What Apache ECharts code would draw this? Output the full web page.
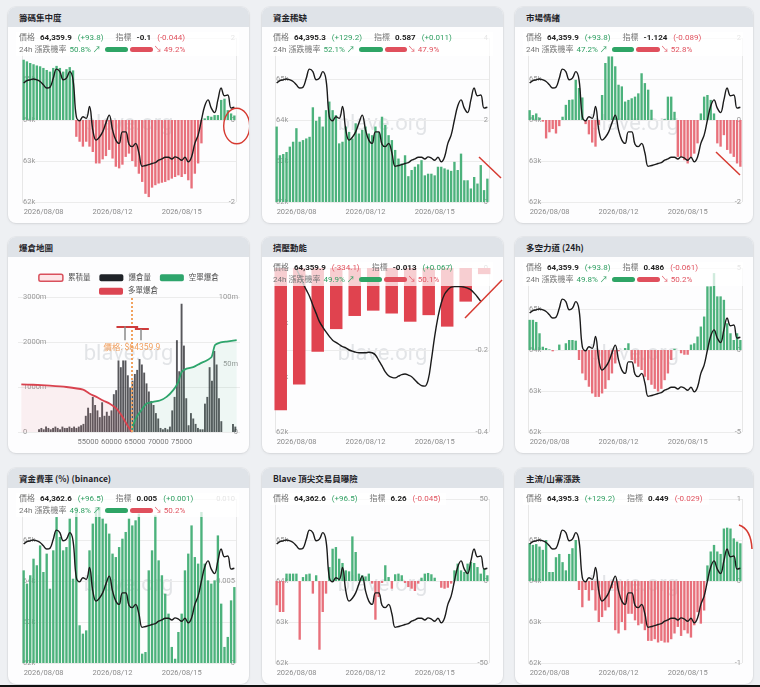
<!DOCTYPE html>
<html lang="zh-Hant">
<head>
<meta charset="utf-8">
<title>Blave 指標面板</title>
<script src="https://cdn.jsdelivr.net/npm/echarts@6.0.0/dist/echarts.min.js"></script>
<style>
  html, body { margin:0; padding:0; width:760px; height:687px; overflow:hidden; background:#eef0f3; font-family: Roboto, "Noto Sans CJK TC", sans-serif; }
  .card { position:absolute; height:216px; background:#fdfdfe; border-radius:8px; box-shadow:0 0 0 1px rgba(0,0,0,0.03), 0 1px 3px rgba(0,0,0,0.08); overflow:hidden; }
  .hd { position:absolute; left:0; top:0; right:0; height:20px; background:#dfe3e8; z-index:3; font: 700 8.5px/20px "Noto Sans CJK TC", sans-serif; padding-left:11px; color:#1f2328; }
  .ch { position:absolute; left:0; top:0; width:100%; height:100%; }
  .info { position:absolute; left:11px; top:25px; z-index:4; font-size:8px; line-height:12px; color:#777; white-space:nowrap; font-family: Roboto, "Noto Sans CJK TC", sans-serif; }
  .info .l { height:12px; }
  .info b { color:#222; font-weight:700; margin-left:5px; }
  .info .g { color:#2f9f62; }
  .info .r { color:#e0525f; }
  .info .p { margin-left:6px; }
  .info .k2 { margin-left:12px; }
  .info .q { margin-left:3px; }
  .info .pb { display:inline-block; height:4.5px; border-radius:3px; vertical-align:middle; margin-top:-1px; }
  #strip { position:absolute; left:0; top:685px; width:760px; height:2px; background:#111; }
</style>
</head>
<body>
<div id="strip"></div>
<script>
// ---------- shared time axis ----------
const timeTickIndex = [0, 27, 48];
const timeTickLabels = ['2026/08/08', '2026/08/12', '2026/08/15'];

// BTC price (shared black line)
const priceLine = [64900,64960,64980,65000,64980,64940,64860,64780,64800,65020,
  65240,65180,64980,65020,65180,64980,64080,63980,64080,64040,
  64330,63760,63510,63580,63710,63930,64120,63760,63510,63430,
  63710,63710,63410,63350,63430,63200,62870,62890,62910,62940,
  62960,63020,63050,63090,63090,63050,63100,63070,63020,63090,
  62980,63100,63430,63630,64000,64340,64490,64290,64180,64490,
  64780,64590,64610,64290,64310];

// 籌碼集中度
const concentrationBars = [1.47,1.43,1.39,1.36,1.33,1.31,1.27,1.22,1.18,1.27,
  1.32,1.27,1.18,1.24,1.29,1.21,-0.41,-0.53,-0.65,-0.53,
  -0.65,-0.78,-1.06,-1.06,-0.96,-0.88,-0.73,-0.94,-1.14,-1.18,
  -1.09,-0.90,-0.82,-1.00,-1.14,-1.31,-1.51,-1.80,-1.88,-1.65,
  -1.59,-1.55,-1.53,-1.51,-1.47,-1.43,-1.39,-1.35,-1.39,-1.32,
  -1.47,-1.67,-1.31,-1.06,-0.57,0.04,0.10,0.08,0.12,0.12,
  0.49,0.52,0.24,0.16,0.11];

// 資金稀缺
const scarcityBars = [1.84,1.14,1.17,1.22,1.35,1.47,1.80,1.47,1.51,1.55,
  1.59,2.31,1.98,2.08,1.84,2.24,2.45,2.24,2.12,1.43,
  1.47,1.84,1.71,1.55,1.92,1.67,1.76,1.84,1.67,1.63,
  1.84,1.71,2.08,1.88,1.63,1.51,1.27,1.06,0.94,1.14,
  0.63,0.78,0.86,0.92,1.02,0.65,0.69,0.69,0.65,0.86,
  0.86,0.82,0.79,0.76,0.98,0.78,1.18,0.53,0.53,0.33,
  0.61,0.45,0.90,0.29,0.57];

// 市場情緒
const sentimentBars = [0.24,0.12,0.16,0.06,-0.04,-0.45,-0.30,-0.22,-0.33,-0.15,
  0.08,0.37,0.49,0.50,0.98,0.78,0.55,-0.10,-0.35,-0.55,
  -0.65,-0.12,0.61,1.39,1.55,1.55,1.31,0.86,0.82,0.45,
  0.49,0.53,0.57,0.65,1.14,0.90,0.74,0.25,0,0,
  0,0.02,0.57,0.57,0.20,-0.90,-0.90,-0.98,-1.06,-0.90,
  -0.82,-0.57,0.16,0.57,0.61,0.49,0.16,-0.57,-0.65,-0.37,
  -0.73,-0.82,-0.90,-1.06,-1.14];

// 擠壓動能
const squeezeDays = [0,1,2,3,4,5,6,7,8,9,10,11];
const squeezeBars = [-0.347,-0.284,-0.204,-0.149,-0.117,-0.104,-0.111,-0.131,-0.115,-0.143,-0.082,-0.015];
const squeezeLine = [65600,65500,65400,65300,65200,65100,64980,64860,64720,64600,
  64480,64320,64170,64020,63920,63830,63750,63680,63640,63600,
  63560,63540,63500,63480,63460,63450,63450,63450,63460,63450,
  63410,63310,63210,63100,63030,63000,62990,63020,63050,63060,
  63040,63010,62950,62890,62850,62840,62950,63320,63750,64100,
  64360,64520,64600,64650,64660,64660,64660,64650,64630,64600,
  64540,64470,64390,null,null];

// 多空力道 (24h)
const longShortBars = [1.84,1.84,1.71,1.02,0.20,0.12,0.04,-0.08,0,0.33,
  0,0.41,0.61,0.61,0.57,-0.61,-1.43,-1.84,-2.24,-2.65,
  -2.86,-2.86,-2.65,-2.37,-1.84,-1.43,-0.82,-0.08,0,0.12,
  0.41,-0.61,-0.82,-1.02,-1.22,-1.63,-1.84,-2.12,-2.37,-2.53,
  -2.37,-1.84,-1.43,-0.61,0.08,0,-0.20,-0.29,-0.29,0.33,
  0.41,0.82,1.43,2.04,3.88,3.88,4.69,3.27,3.27,3.06,
  1.63,1.02,0.61,1.02,0.61];

// 資金費率 (%) (binance)
const fundingBars = [0.00565,0.00484,0.00535,0.00636,0.00596,0.00717,0.00555,0.00667,0.00453,0.00687,
  0.00890,0.00768,0.00687,0.00707,0.00880,0.00514,0.00951,0.00230,0.00179,0.00199,
  0.00687,0.00850,0.00951,0.00951,0.00880,0.00850,0.00789,0.00667,0.00646,0.00707,
  0.00758,0.00799,0.00880,0.00839,0.00870,0.00911,0.00057,0.00067,0.00565,0.00687,
  0.00900,0.00626,0.00535,0.00423,0.00301,0.00098,0.00026,0.00189,0.00301,0.00565,
  0.00667,0.00839,0.00646,0.00606,0.00921,0.00606,0.00504,0.00484,0.00504,0.00778,
  0.00362,0.00098,0.00159,0.00382,0.00463];

// Blave 頂尖交易員曝險
const traderBars = [-14.8,-18.9,-18.9,4.5,4.5,4.5,4.5,-35.8,2.4,4.1,
  4.5,-7.7,3.5,-41.9,-18.9,-7.7,8.5,19.7,20.7,13.6,
  11.0,6.5,5.9,27.2,17.7,4.5,3.5,2.8,4.5,-1.6,
  -23.6,-9.8,-1.2,9.6,2.4,-4.7,4.1,4.5,3.5,-1.2,
  -3.7,-4.7,-6.1,-1.6,2.0,4.5,4.9,4.1,2.0,0,
  -4.1,-4.7,-4.1,-1.6,6.5,10.6,6.5,5.5,10.6,11.6,
  11.0,8.5,4.5,7.5,3.5];

// 主流/山寨漲跌
const majorAltBars = [0.46,0.44,0.45,0.42,0.38,0.50,0.11,0.11,0.29,0.33,
  0.23,0.13,0.33,0.40,0.50,-0.11,-0.32,-0.11,-0.24,-0.11,
  -0.36,-0.50,-0.44,-0.36,-0.32,-0.09,-0.60,-0.64,-0.50,-0.60,
  -0.40,-0.40,-0.48,-0.54,-0.52,-0.60,-0.73,-0.73,-0.71,-0.75,
  -0.73,-0.75,-0.75,-0.71,-0.64,-0.56,-0.67,-0.60,-0.64,-0.69,
  -0.54,-0.38,-0.52,-0.36,0.19,0.36,0.44,0.36,0.33,0.64,
  0.65,0.64,0.52,0.48,0.46];

// 爆倉地圖
const currentPrice = 64359.9;
const liqPrices = [44500,45000,45500,46000,46500,47000,47500,48000,48500,49000,
  49500,50000,50500,51000,51500,52000,52500,53000,53500,54000,
  54500,55000,55500,56000,56500,57000,57500,58000,58500,59000,
  59500,60000,60500,61000,61500,62000,62500,63000,63500,64000,
  64500,65000,65500,66000,66500,67000,67500,68000,68500,69000,
  69500,70000,70500,71000,71500,72000,72500,73000,73500,74000,
  74500,75000,75500,76000,76500,77000,77500,78000,78500,79000,
  79500,80000,80500,81000,81500,82000,82500,83000,83500,84000,
  84500,85000,85500,86000,86500];
const liqVolumes = [2,3,2,4,3,2,3,4,3,2,
  4,3,3,4,3,4,3,4,5,6,
  12,18,14,26,20,16,11,22,12,15,
  12,16,28,31,53,48,53,53,42,33,
  38,43,46,54,50,44,36,30,23,20,
  14,10,3,2,3,2,4,16,26,68,
  45,95,64,25,5,14,10,6,3,2,
  2,21,26,48,38,60,50,25,8,0,
  0,0,0,6,4];
const longCumPrices = [40714,43214,46786,50357,53929,55357,56786,58214,59643,61071,62143,63214,64359.9];
const longCumValues = [1060,1050,1030,1000,940,850,780,700,630,520,370,185,0];
const shortCumPrices = [64359.9,64643,65357,66071,67500,68929,70357,71786,73214,74286,75000,76071,77500,78929,80357,81429,82143,83214,84643,86786];
const shortCumValues = [0,150,330,440,630,670,700,780,930,1110,1330,1410,1440,1520,1590,1670,1930,1985,2010,2040];
const rangeMarks = [
  {from:61070, to:65710, level:2348, stem:62860, base:2037},
  {from:65000, to:68000, level:2289, stem:66214, base:2037}
];

// ---------- card texts ----------
const cardTitles = ['籌碼集中度','資金稀缺','市場情緒','爆倉地圖','擠壓動能','多空力道 (24h)','資金費率 (%) (binance)','Blave 頂尖交易員曝險','主流/山寨漲跌'];
const infoPrice    = ['64,359.9','64,395.3','64,359.9',null,'64,359.9','64,359.9','64,362.6','64,362.6','64,395.3'];
const infoPriceChg = ['+93.8','+129.2','+93.8',null,'-334.1','+93.8','+96.5','+96.5','+129.2'];
const infoIndex    = ['-0.1','0.587','-1.124',null,'-0.013','0.486','0.005','6.26','0.449'];
const infoIndexChg = ['-0.044','+0.011','-0.089',null,'+0.067','-0.061','+0.001','-0.045','-0.029'];
const upProb   = [50.8,52.1,47.2,null,49.9,49.8,49.8,null,null];
const downProb = [49.2,47.9,52.8,null,50.1,50.2,50.2,null,null];

// ---------- layout ----------
const colLeft = [8, 262, 515], colWidth = [241, 241, 238], rowTop = [7, 237, 468];
const gridLR = [[14,13],[13,14],[13,11]];
const GREEN = '#4cb27c', RED = '#e8707b', SQUEEZE_RED = '#e0434f', LINE = '#1b1b1b';
const ANN = '#d63a31';
const FONT = 'Roboto, "Noto Sans CJK TC", sans-serif';

const annotations = {
  0: [{type:'ellipse', shape:{cx:228.7, cy:119, rx:13, ry:17.8}, style:{fill:'none', stroke:ANN, lineWidth:1.4}, z:100, silent:true}],
  1: [{type:'line', shape:{x1:217, y1:150, x2:239, y2:171}, style:{stroke:ANN, lineWidth:1.5}, z:100, silent:true}],
  2: [{type:'line', shape:{x1:201, y1:145, x2:225, y2:168}, style:{stroke:ANN, lineWidth:1.5}, z:100, silent:true}],
  4: [{type:'line', shape:{x1:203, y1:81, x2:240, y2:43}, style:{stroke:ANN, lineWidth:1.5}, z:100, silent:true}],
  8: [{type:'bezierCurve', shape:{x1:224, y1:57, cpx1:236, cpy1:61, x2:237, y2:81}, style:{stroke:ANN, lineWidth:1.5, fill:'none'}, z:100, silent:true}]
};

function sign(s){ return s.charAt(0) === '-' ? 'r' : 'g'; }

function makeCard(i) {
  const col = i % 3, row = Math.floor(i / 3);
  const W = colWidth[col];
  const card = document.createElement('div');
  card.className = 'card';
  card.style.left = colLeft[col] + 'px';
  card.style.top = rowTop[row] + 'px';
  card.style.width = W + 'px';
  card.innerHTML = '<div class="ch"></div><div class="hd">' + cardTitles[i] + '</div>';
  let info = null, twoLines = false;
  if (infoPrice[i]) {
    info = document.createElement('div');
    info.className = 'info';
    let h = '<div class="l"><span>價格</span><b>' + infoPrice[i] + '</b><span class="p ' + sign(infoPriceChg[i]) + '">(' + infoPriceChg[i] + ')</span>' +
            '<span class="k2">指標</span><b>' + infoIndex[i] + '</b><span class="p ' + sign(infoIndexChg[i]) + '">(' + infoIndexChg[i] + ')</span></div>';
    if (upProb[i] != null) {
      twoLines = true;
      h += '<div class="l"><span>24h 漲跌機率</span><span class="q g">' + upProb[i].toFixed(1) + '% ↗</span>' +
           '<i class="pb" style="width:' + (upProb[i] * 0.46).toFixed(1) + 'px;background:#2fa566;margin-left:4px"></i>' +
           '<i class="pb" style="width:' + (downProb[i] * 0.46).toFixed(1) + 'px;background:#e0505d;margin-left:2px"></i>' +
           '<span class="r" style="margin-left:1px">↘ ' + downProb[i].toFixed(1) + '%</span></div>';
    }
    info.innerHTML = h;
    card.appendChild(info);
  }
  document.body.appendChild(card);
  let overlay = null;
  if (info) {
    overlay = twoLines ? {w: W - 18, h: 24} : {w: info.offsetWidth + 9, h: 12};
  }
  return {el: card.querySelector('.ch'), W: W, col: col, overlay: overlay};
}

function baseGraphics(i, overlay) {
  const g = [{type:'text', left:'center', top:106, z:0, silent:true,
    style:{text:'blave.org', fontSize:22, fontFamily:'Roboto, sans-serif', fill:'rgba(165,172,180,0.3)'}}];
  if (overlay) g.push({type:'rect', shape:{x:8, y:25, width:overlay.w, height:overlay.h}, style:{fill:'rgba(255,255,255,0.74)'}, z:50, silent:true});
  (annotations[i] || []).forEach(a => g.push(a));
  return g;
}

function timeXAxis() {
  return {
    type:'category', data: priceLine.map((_, k) => String(k)), boundaryGap:true,
    axisLine:{show:false}, axisTick:{show:false},
    axisLabel:{
      interval:(k) => timeTickIndex.indexOf(k) >= 0,
      formatter:(v) => { const k = timeTickIndex.indexOf(+v); return k >= 0 ? timeTickLabels[k] : ''; },
      fontSize:7.5, color:'#8c8c8c', margin:6, alignMinLabel:'left'
    },
    splitLine:{show:true, interval:(k) => k === 33, lineStyle:{color:'#e7e7e7'}}
  };
}

function priceYAxis(min, max, showSplit) {
  return {
    type:'value', min:min, max:max, interval:1000, position:'left',
    axisLine:{show:false}, axisTick:{show:false},
    axisLabel:{inside:true, margin:1, fontSize:7.5, color:'#9a9a9a', showMaxLabel:false, formatter:(v) => (v / 1000) + 'k'},
    splitLine:{show:showSplit, lineStyle:{color:'#ececec'}}
  };
}

function rightYAxis(min, max, interval, fmt, showSplit) {
  return {
    type:'value', min:min, max:max, interval:interval, position:'right',
    axisLine:{show:false}, axisTick:{show:false},
    axisLabel:{inside:true, margin:1, fontSize:7.5, color:'#9a9a9a', formatter: fmt || ((v) => String(v))},
    splitLine:{show:!!showSplit, lineStyle:{color:'#ececec'}}
  };
}

function priceSeries(data) {
  return {type:'line', xAxisIndex:0, yAxisIndex:0, data:data, smooth:0.4, symbol:'none', z:5,
    lineStyle:{color:LINE, width:1.4}, silent:true};
}

const timePanels = {
  0: {bars:concentrationBars, rmin:-2, rmax:2, rint:2},
  1: {bars:scarcityBars, rmin:0, rmax:4, rint:2},
  2: {bars:sentimentBars, rmin:-2, rmax:2, rint:2},
  5: {bars:longShortBars, rmin:-5, rmax:5, rint:5},
  6: {bars:fundingBars, rmin:0, rmax:0.01, rint:0.005, fmt:(v) => v === 0 ? '0' : v.toFixed(3)},
  7: {bars:traderBars, rmin:-50, rmax:50, rint:50},
  8: {bars:majorAltBars, rmin:-1, rmax:1, rint:1}
};

function timeOption(i, c) {
  const cfg = timePanels[i];
  const lr = gridLR[c.col];
  return {
    animation:false,
    textStyle:{fontFamily:FONT},
    grid:{left:lr[0], right:lr[1], top:31, bottom:21},
    graphic: baseGraphics(i, c.overlay),
    xAxis:[timeXAxis()],
    yAxis:[priceYAxis(62000, 66000, true), rightYAxis(cfg.rmin, cfg.rmax, cfg.rint, cfg.fmt, false)],
    series:[
      {type:'bar', xAxisIndex:0, yAxisIndex:1, barCategoryGap:'28%', silent:true,
       data: cfg.bars.map(v => ({value:v, itemStyle:{color: v >= 0 ? GREEN : RED}}))},
      priceSeries(priceLine)
    ]
  };
}

function squeezeOption(i, c) {
  const lr = gridLR[c.col];
  return {
    animation:false,
    textStyle:{fontFamily:FONT},
    grid:{left:lr[0], right:lr[1], top:31, bottom:21},
    graphic: baseGraphics(i, c.overlay),
    xAxis:[timeXAxis(), {type:'value', min:-0.31, max:11.26, show:false}],
    yAxis:[priceYAxis(62000, 65000, false), rightYAxis(-0.4, 0, 0.2, (v) => v === 0 ? '0' : v.toFixed(1), true)],
    series:[
      {type:'bar', xAxisIndex:1, yAxisIndex:1, barWidth:12.5, silent:true, itemStyle:{color:SQUEEZE_RED},
       data: squeezeDays.map((d, k) => [d, squeezeBars[k]])},
      priceSeries(squeezeLine)
    ]
  };
}

function liqOption(i, c) {
  const legendCommon = {icon:'roundRect', itemWidth:24, itemHeight:7, itemGap:9, left:'center', selectedMode:false,
    textStyle:{fontSize:7.5, color:'#555', fontFamily:FONT}};
  const mFmt = (v) => v === 0 ? '0' : v + 'm';
  return {
    animation:false,
    textStyle:{fontFamily:FONT},
    grid:{left:10, right:9, top:60, bottom:21},
    graphic: baseGraphics(i, null),
    legend:[
      Object.assign({top:31.5, data:[
        {name:'累積量', itemStyle:{color:'#fde6e8', borderColor:'#d9505c', borderWidth:1.5}},
        {name:'爆倉量', itemStyle:{color:'#1f2328', borderWidth:0}},
        {name:'空單爆倉', itemStyle:{color:'#2ea56c', borderWidth:0}}]}, legendCommon),
      Object.assign({top:45.5, data:[{name:'多單爆倉', itemStyle:{color:'#dc4552', borderWidth:0}}]}, legendCommon)
    ],
    xAxis:[{type:'value', min:40000, max:87500, interval:5000,
      axisLine:{show:false}, axisTick:{show:false}, splitLine:{show:false},
      axisLabel:{fontSize:7.5, color:'#7a7a7a', margin:6, formatter:(v) => (v >= 55000 && v <= 75000) ? String(v) : ''}}],
    yAxis:[
      {type:'value', min:0, max:3000, interval:1000, position:'left', axisLine:{show:false}, axisTick:{show:false},
       axisLabel:{inside:true, margin:5, fontSize:7.5, color:'#9a9a9a', formatter:mFmt}, splitLine:{lineStyle:{color:'#ececec'}}},
      {type:'value', min:0, max:100, interval:50, position:'right', axisLine:{show:false}, axisTick:{show:false},
       axisLabel:{inside:true, margin:2, fontSize:7.5, color:'#9a9a9a', formatter:mFmt}, splitLine:{show:false}}
    ],
    series:[
      {name:'累積量', type:'line', data:[], itemStyle:{color:'#fde6e8', borderColor:'#d9505c'}},
      {name:'爆倉量', type:'bar', xAxisIndex:0, yAxisIndex:1, barWidth:1.9, silent:true,
       itemStyle:{color:'rgba(45,45,50,0.8)'},
       data: liqPrices.map((p, k) => [p, liqVolumes[k]]),
       markLine:{silent:true, symbol:['none','none'], label:{show:false},
         lineStyle:{color:'#f1a360', type:'dotted', width:2}, data:[{xAxis:currentPrice}]},
       markPoint:{silent:true, symbol:'circle', symbolSize:0,
         label:{show:true, position:'inside', formatter:'價格: $' + currentPrice, color:'#f0a060', fontSize:8.5},
         data:[{coord:[currentPrice, 62]}]}},
      {name:'空單爆倉', type:'line', xAxisIndex:0, yAxisIndex:0, symbol:'none', smooth:0.2, silent:true,
       lineStyle:{color:'#2ea56c', width:1.8}, areaStyle:{color:'rgba(46,165,108,0.10)'},
       data: shortCumPrices.map((p, k) => [p, shortCumValues[k]])},
      {name:'多單爆倉', type:'line', xAxisIndex:0, yAxisIndex:0, symbol:'none', smooth:0.2, silent:true,
       lineStyle:{color:'#d9434f', width:1.8}, areaStyle:{color:'rgba(225,90,100,0.12)'},
       data: longCumPrices.map((p, k) => [p, longCumValues[k]]),
       markLine:{silent:true, symbol:['none','none'], label:{show:false},
         data: rangeMarks.flatMap(m => [
           [{coord:[m.from, m.level], lineStyle:{color:'#cf3b3b', width:2, type:'solid'}}, {coord:[m.to, m.level]}],
           [{coord:[m.stem, m.level], lineStyle:{color:'#8a8a8a', width:1.5, type:'solid'}}, {coord:[m.stem, m.base]}]
         ])}}
    ]
  };
}

for (let i = 0; i < 9; i++) {
  const c = makeCard(i);
  const chart = echarts.init(c.el, null, {renderer:'canvas'});
  let opt;
  if (i === 3) opt = liqOption(i, c);
  else if (i === 4) opt = squeezeOption(i, c);
  else opt = timeOption(i, c);
  chart.setOption(opt);
}
</script>
</body>
</html>
